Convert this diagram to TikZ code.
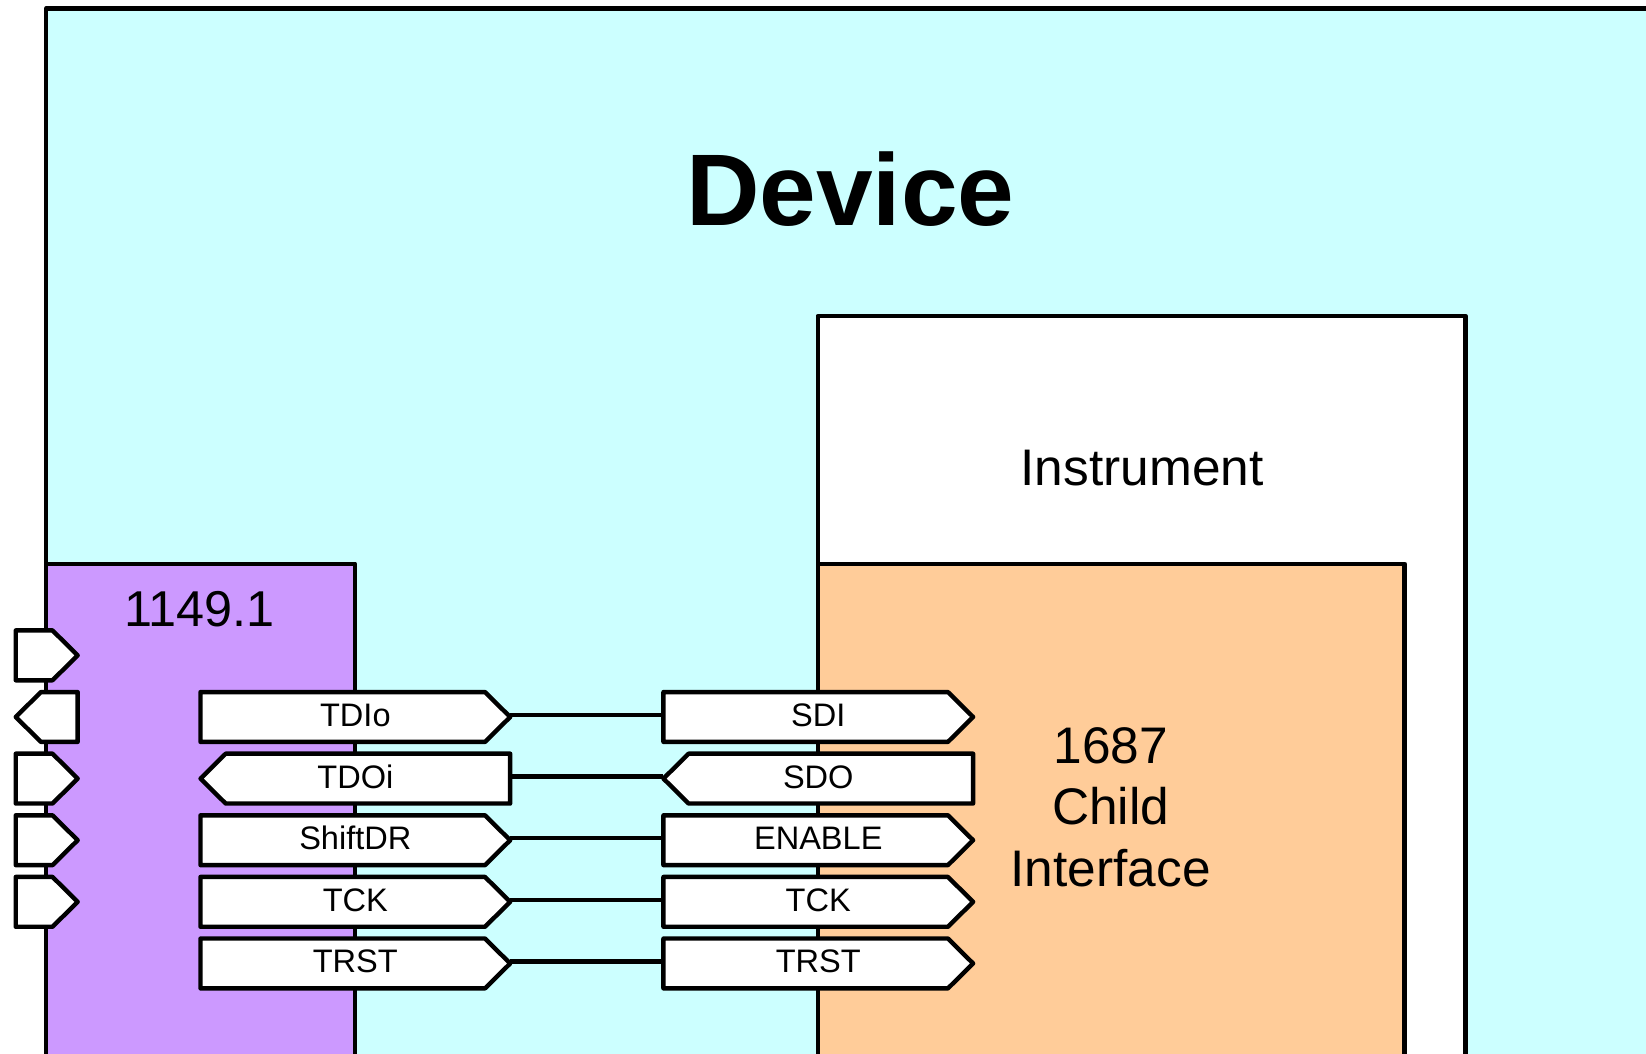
\documentclass[tikz,border=0pt]{standalone}
\usepackage{fontspec}
\setmainfont{Liberation Sans}
\definecolor{devcyan}{HTML}{CCFFFF}
\definecolor{purp}{HTML}{CC99FF}
\definecolor{orng}{HTML}{FFCC99}
\newcommand\sigR[4]{%
 \draw[sig] (#2,#3-23.75) -- (#2+271,#3-23.75) -- (#2+295,#3) -- (#2+271,#3+23.75) -- (#2,#3+23.75) -- cycle;
 \node[lab] (#1) at (#2+147.5,#3) {#4};}
\newcommand\sigL[4]{%
 \draw[sig] (#2+24,#3-23.75) -- (#2+295,#3-23.75) -- (#2+295,#3+23.75) -- (#2+24,#3+23.75) -- (#2,#3) -- cycle;
 \node[lab] (#1) at (#2+147.5,#3) {#4};}
\newcommand\portR[3]{%
 \draw[sig] (#2,#3-23.75) -- (#2+35,#3-23.75) -- (#2+59,#3) -- (#2+35,#3+23.75) -- (#2,#3+23.75) -- cycle;
 \node[portn] (#1) at (#2+29.5,#3) {};}
\newcommand\portL[3]{%
 \draw[sig] (#2+24,#3-23.75) -- (#2+59,#3-23.75) -- (#2+59,#3+23.75) -- (#2+24,#3+23.75) -- (#2,#3) -- cycle;
 \node[portn] (#1) at (#2+29.5,#3) {};}
\begin{document}
\begin{tikzpicture}[x=1pt,y=-1pt, line join=round,
  box/.style={draw=black, line width=4.2pt},
  sig/.style={draw=black, fill=white, line width=4.2pt},
  lab/.style={inner sep=0pt, minimum width=295pt, minimum height=47.5pt, text height=22pt, text depth=0pt, yshift=2pt, font=\fontsize{31}{31}\selectfont},
  portn/.style={inner sep=0pt, minimum width=59pt, minimum height=47.5pt},
  wire/.style={draw=black, line width=4.2pt}]
\useasboundingbox (0,0) rectangle (1568,1004);
\clip (0,0) rectangle (1568,1004);
% boxes
\draw[box, fill=devcyan] (44,8) rectangle (1640,1060);
\draw[box, fill=white] (779,301) rectangle (1396,1060);
\draw[box, fill=orng] (779,537) rectangle (1338,1060);
\draw[box, fill=purp] (44,537) rectangle (338,1060);
% titles
\node[inner sep=0pt, font=\bfseries\fontsize{97}{97}\selectfont] (devlabel) at (810,180) {Device};
\node[inner sep=0pt, font=\fontsize{49}{49}\selectfont] (instlabel) at (1088,446) {Instrument};
\node[inner sep=0pt, font=\fontsize{48}{48}\selectfont] (stdlabel) at (190,580) {1149.1};
\node[inner sep=0pt, align=center, font=\fontsize{49}{58.5}\selectfont] (childlabel) at (1058,769) {1687\\Child\\Interface};
% ports
\portR{p1}{15}{624.3}
\portL{p2}{15}{683}
\portR{p3}{15}{741.7}
\portR{p4}{15}{800.4}
\portR{p5}{15}{859.1}
% left signals
\sigR{tdio}{191}{683}{TDIo}
\sigL{tdoi}{191}{741.7}{TDOi}
\sigR{shiftdr}{191}{800.4}{ShiftDR}
\sigR{tckl}{191}{859.1}{TCK}
\sigR{trstl}{191}{917.8}{TRST}
% right signals
\sigR{sdi}{632}{683}{SDI}
\sigL{sdo}{632}{741.7}{SDO}
\sigR{enable}{632}{800.4}{ENABLE}
\sigR{tckr}{632}{859.1}{TCK}
\sigR{trstr}{632}{917.8}{TRST}
% wires
\draw[wire] (tdio.east) -- (sdi.west);
\draw[wire] (tdoi.east) -- (sdo.west);
\draw[wire] (shiftdr.east) -- (enable.west);
\draw[wire] (tckl.east) -- (tckr.west);
\draw[wire] (trstl.east) -- (trstr.west);
\end{tikzpicture}
\end{document}
